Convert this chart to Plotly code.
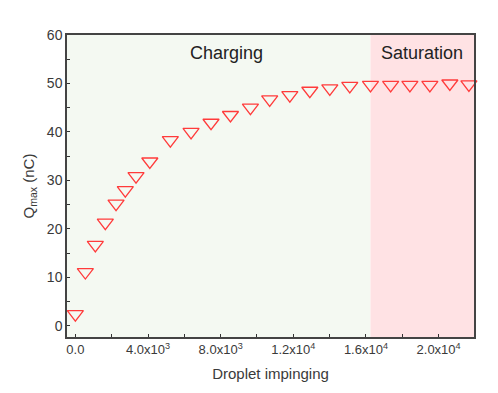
import plotly.graph_objects as go

droplets = [0, 550, 1100, 1650, 2240, 2750, 3340, 4100, 5230, 6370, 7470, 8540,
            9640, 10700, 11810, 12910, 14010, 15110, 16250, 17360, 18420, 19520, 20620, 21670]
qmax = [2.4, 11.1, 16.7, 21.3, 25.2, 28.0, 30.9, 33.9, 38.3, 40.0, 41.9, 43.5,
        45.0, 46.7, 47.6, 48.5, 49.0, 49.5, 49.7, 49.7, 49.7, 49.7, 50.0, 49.8]
x_tickvals = [0, 4000, 8000, 12000, 16000, 20000]
x_ticktext = ["0.0", "4.0x10<sup>3</sup>", "8.0x10<sup>3</sup>", "1.2x10<sup>4</sup>",
              "1.6x10<sup>4</sup>", "2.0x10<sup>4</sup>"]
x_range = [-460, 21950]
y_range = [-2.3, 60]
saturation_start = 16250
region_labels = ["Charging", "Saturation"]

font = "Liberation Sans, Arial, sans-serif"
txt = "#3a3a3a"

fig = go.Figure()
fig.add_shape(type="rect", xref="x", yref="y", x0=x_range[0], x1=saturation_start,
              y0=y_range[0], y1=y_range[1], fillcolor="#f4f9f2", line_width=0, layer="below")
fig.add_shape(type="rect", xref="x", yref="y", x0=saturation_start, x1=x_range[1],
              y0=y_range[0], y1=y_range[1], fillcolor="#ffe2e4", line_width=0, layer="below")

fig.add_trace(go.Scatter(
    x=droplets, y=qmax, mode="markers",
    marker=dict(symbol="triangle-down-open", size=14, color="#ff3b3b", line=dict(width=1.3)),
    showlegend=False, cliponaxis=False))

fig.add_annotation(x=(x_range[0] + saturation_start) / 2 + 400, y=56.3, text=region_labels[0],
                   showarrow=False, font=dict(family=font, size=18, color="#222"))
fig.add_annotation(x=(saturation_start + x_range[1]) / 2, y=56.3, text=region_labels[1],
                   showarrow=False, font=dict(family=font, size=18, color="#222"))

fig.update_xaxes(range=x_range, tickvals=x_tickvals, ticktext=x_ticktext,
                 ticks="inside", ticklen=3, tickcolor="#333",
                 minor=dict(dtick=2000, tick0=0, ticks="inside", ticklen=3, tickcolor="#333"),
                 showline=True, linecolor="#444", linewidth=1.5, mirror=True,
                 showgrid=False, zeroline=False,
                 tickfont=dict(family=font, size=13, color=txt),
                 title=dict(text="Droplet impinging", font=dict(family=font, size=15, color=txt), standoff=12))
fig.update_yaxes(range=y_range, dtick=10, tick0=0,
                 ticks="inside", ticklen=3, tickcolor="#333",
                 minor=dict(dtick=5, tick0=0, ticks="inside", ticklen=3, tickcolor="#333"),
                 showline=True, linecolor="#444", linewidth=1.5, mirror=True,
                 showgrid=False, zeroline=False,
                 tickfont=dict(family=font, size=14, color=txt),
                 title=dict(text="Q<sub>max</sub> (nC)", font=dict(family=font, size=15, color=txt), standoff=9))

fig.update_layout(width=498, height=393, margin=dict(l=59, r=32, t=27, b=64),
                  paper_bgcolor="white", plot_bgcolor="white")
fig.write_html("out.html")
